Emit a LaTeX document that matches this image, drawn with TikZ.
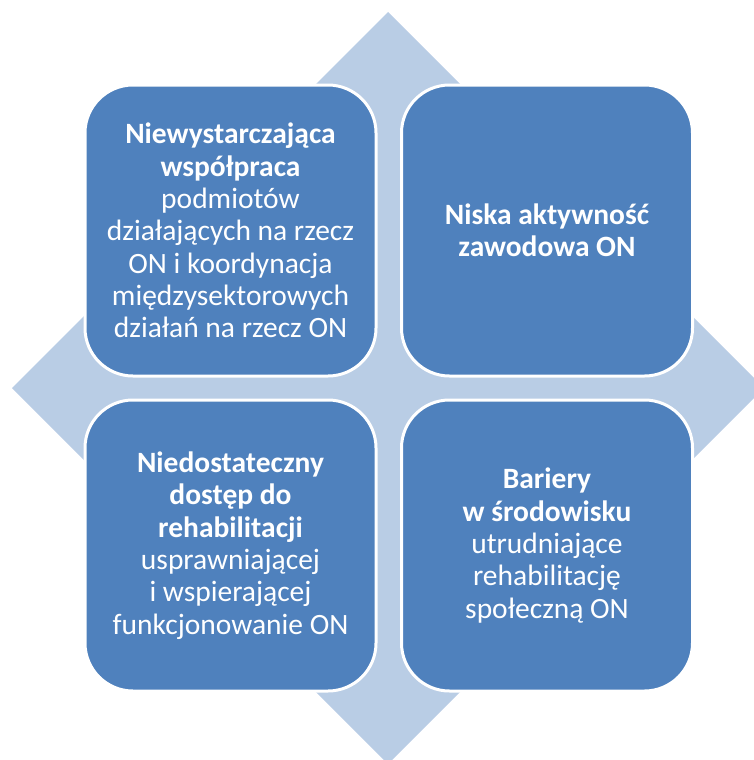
\documentclass[tikz,border=0pt]{standalone}
\usepackage{fontspec}
\setmainfont{Carlito}
\definecolor{boxblue}{HTML}{4F81BD}
\definecolor{diamblue}{HTML}{B9CDE5}
\tikzset{
  quad/.style={draw=white, line width=3pt, fill=boxblue, rounded corners=48pt,
    minimum width=291pt, minimum height=291pt, inner sep=0pt,
    text=white, align=center, font=\fontsize{29.5}{32.3}\selectfont},
}
\begin{document}
\begin{tikzpicture}[x=1pt,y=-1pt]
\useasboundingbox (0,0) rectangle (754,760);
\clip (0,0) rectangle (754,760);
\fill[diamblue] (388,12) -- (12,388) -- (388,764) -- (764,388) -- cycle;
\node[quad] (tl) at (230.5,230.5) {\textbf{Niewystarczająca}\\\textbf{współpraca}\\podmiotów\\działających na rzecz\\ON i koordynacja\\międzysektorowych\\działań na rzecz ON};
\node[quad] (tr) at (547,230.5) {\textbf{Niska aktywność}\\\textbf{zawodowa ON}};
\node[quad] (bl) at (230.5,545.5) {\textbf{Niedostateczny}\\\textbf{dostęp do}\\\textbf{rehabilitacji}\\usprawniającej\\i wspierającej\\funkcjonowanie ON};
\node[quad] (br) at (547,545.5) {\textbf{Bariery}\\\textbf{w środowisku}\\utrudniające\\rehabilitację\\społeczną ON};
\end{tikzpicture}
\end{document}
